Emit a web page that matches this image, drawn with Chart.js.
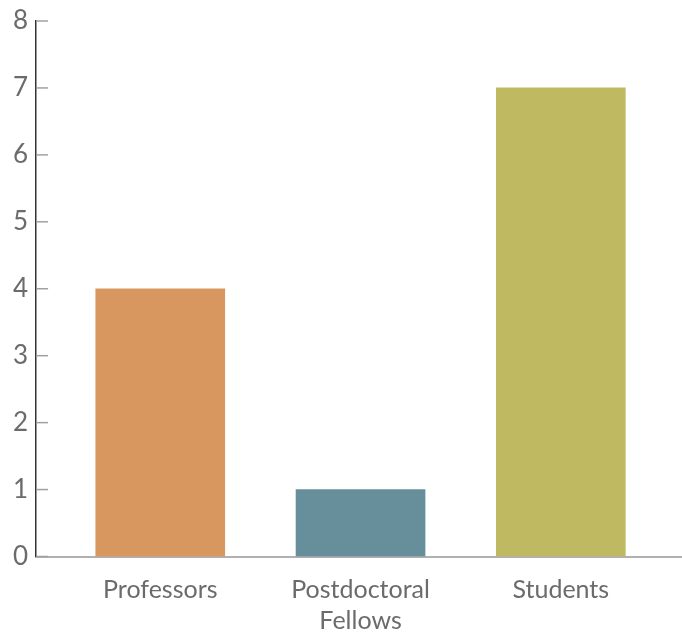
<!DOCTYPE html>
<html>
<head>
<meta charset="utf-8">
<script src="https://cdn.jsdelivr.net/npm/chart.js@4"></script>
<style>
  html, body { margin: 0; padding: 0; background: #fff; overflow: hidden; }
  #wrap { width: 682px; height: 637px; }
</style>
</head>
<body>
<div id="wrap"><canvas id="barChart"></canvas></div>
<script>
// Group sizes bar chart

const categories = ["Professors", ["Postdoctoral", "Fellows"], "Students"];
const counts = [4, 1, 7];
const barColors = ["rgb(217, 151, 96)", "rgb(103, 143, 155)", "rgb(191, 186, 98)"];
const yTicks = [0, 1, 2, 3, 4, 5, 6, 7, 8];

Chart.defaults.font.family = "Lato";
Chart.defaults.color = "#6b6b6b";

// short tick marks drawn inside the plot, next to the y axis
const innerTicks = {
  id: "innerTicks",
  afterDraw(chart) {
    const ctx = chart.ctx;
    const y = chart.scales.y;
    const left = chart.chartArea.left;
    ctx.save();
    ctx.strokeStyle = "#a0a0a0";
    ctx.lineWidth = 1.5;
    yTicks.forEach(function (v) {
      const py = y.getPixelForValue(v);
      ctx.beginPath();
      ctx.moveTo(left, py);
      ctx.lineTo(left + 12, py);
      ctx.stroke();
    });
    ctx.restore();
  },
};

const data = {
  datasets: [
    {
      data: counts.map(function (v, i) { return { x: i, y: v }; }),
      backgroundColor: barColors,
      barThickness: 129,
    },
  ],
};

const config = {
  type: "bar",
  data: data,
  options: {
    responsive: true,
    maintainAspectRatio: false,
    animation: false,
    layout: {
      padding: { top: 1, right: 1, left: 5, bottom: -18 },
    },
    scales: {
      x: {
        type: "linear",
        offset: false,
        bounds: "ticks",
        min: -0.62,
        max: 2.6,
        afterBuildTicks: function (axis) {
          axis.ticks = [0, 1, 2].map(function (v) { return { value: v }; });
        },
        grid: { display: false, drawTicks: false, offset: false },
        border: { display: true, color: "#b0b0b0", width: 2 },
        ticks: {
          autoSkip: false,
          maxRotation: 0,
          padding: 18,
          font: { size: 25, lineHeight: 1.25 },
          callback: function (value) {
            return categories[value];
          },
        },
      },
      y: {
        min: 0,
        max: 8,
        grid: { display: false, drawTicks: false },
        border: { display: true, color: "#333333", width: 1.5 },
        ticks: {
          stepSize: 1,
          padding: 8,
          font: { size: 26, lineHeight: 1.0 },
        },
      },
    },
    plugins: {
      legend: { display: false },
      tooltip: { enabled: false },
    },
  },
  plugins: [innerTicks],
};

const barChart = new Chart(document.getElementById("barChart").getContext("2d"), config);
</script>
</body>
</html>
